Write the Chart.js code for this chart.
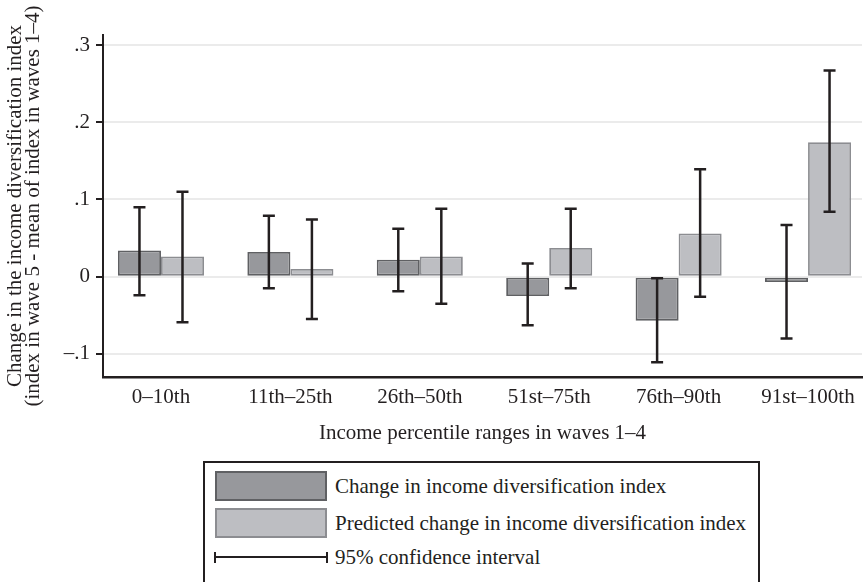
<!DOCTYPE html>
<html>
<head>
<meta charset="utf-8">
<script src="https://cdn.jsdelivr.net/npm/chart.js@4.4.1/dist/chart.umd.min.js"></script>
<style>
  body { margin: 0; background: #fff; }
  #wrap { position: relative; width: 863px; height: 450px; }
  #legend {
    position: absolute; left: 203px; top: 461px; width: 557px; height: 140px;
    box-sizing: border-box; border: 2px solid #231f20;
    font: 21px "Liberation Serif", serif; color: #231f20;
  }
  .item { position: absolute; left: 10px; height: 30px; }
  .swatch { position: absolute; left: 0; top: 0; width: 112px; height: 30px; box-sizing: border-box; border: 2px solid; }
  .lab { position: absolute; left: 120px; top: 0; line-height: 30px; white-space: nowrap; }
  .ci { position: absolute; left: -1px; top: 10px; width: 114px; height: 11px; box-sizing: border-box;
        border-left: 2px solid #231f20; border-right: 2px solid #231f20; }
  .ci::after { content: ""; position: absolute; left: 0; right: 0; top: 4px; height: 2px; background: #231f20; }
</style>
</head>
<body>
<div id="wrap"><canvas id="bars" width="863" height="450"></canvas></div>
<div id="legend"></div>
<script>
const groups = ['0–10th', '11th–25th', '26th–50th', '51st–75th', '76th–90th', '91st–100th'];
// observed change + 95% CI
const actualChange = [0.034, 0.032, 0.022, -0.025, -0.057, -0.007];
const actualLow    = [-0.024, -0.015, -0.019, -0.063, -0.111, -0.080];
const actualHigh   = [0.090, 0.079, 0.062, 0.017, -0.002, 0.067];
// predicted change + 95% CI
const predictedChange = [0.026, 0.010, 0.026, 0.037, 0.056, 0.174];
const predictedLow    = [-0.059, -0.055, -0.035, -0.015, -0.026, 0.084];
const predictedHigh   = [0.110, 0.074, 0.088, 0.088, 0.139, 0.267];
const yTicks = [-0.1, 0, 0.1, 0.2, 0.3];

const ink = '#231f20';
Chart.defaults.font.family = '"Liberation Serif", serif';
Chart.defaults.font.size = 21;
Chart.defaults.color = ink;

// whiskers for the confidence intervals
const ciBars = {
  id: 'ciBars',
  afterDatasetsDraw(chart) {
    const ctx = chart.ctx, y = chart.scales.y;
    ctx.save();
    ctx.strokeStyle = ink;
    ctx.lineWidth = 2.5;
    chart.data.datasets.forEach((ds, d) => {
      chart.getDatasetMeta(d).data.forEach((bar, i) => {
        const hi = y.getPixelForValue(ds.ciHigh[i]);
        const lo = y.getPixelForValue(ds.ciLow[i]);
        ctx.beginPath();
        ctx.moveTo(bar.x, hi); ctx.lineTo(bar.x, lo);
        ctx.moveTo(bar.x - 6, hi); ctx.lineTo(bar.x + 6, hi);
        ctx.moveTo(bar.x - 6, lo); ctx.lineTo(bar.x + 6, lo);
        ctx.stroke();
      });
    });
    ctx.restore();
  }
};

const fmtY = v => {
  const r = Math.round(v * 10) / 10;
  if (r === 0) return '0';
  return (r < 0 ? '–' : '') + Math.abs(r).toString().replace(/^0/, '');
};

const chart = new Chart(document.getElementById('bars'), {
  type: 'bar',
  data: {
    datasets: [
      {
        label: 'Change in income diversification index',
        data: actualChange.map((v, i) => ({ x: i, y: v })),
        ciLow: actualLow, ciHigh: actualHigh,
        backgroundColor: '#97989c', borderColor: '#5f6063'
      },
      {
        label: 'Predicted change in income diversification index',
        data: predictedChange.map((v, i) => ({ x: i, y: v })),
        ciLow: predictedLow, ciHigh: predictedHigh,
        backgroundColor: '#bdbec2', borderColor: '#8c8d91'
      }
    ]
  },
  options: {
    responsive: false,
    animation: false,
    layout: { padding: { top: 35, right: 1 } },
    datasets: { bar: { borderWidth: 1.8, borderSkipped: false, categoryPercentage: 0.665, barPercentage: 1 } },
    plugins: { legend: { display: false }, tooltip: { enabled: false } },
    scales: {
      x: {
        type: 'linear', offset: false, min: -0.448, max: 5.417,
        afterBuildTicks: s => { s.ticks = groups.map((g, i) => ({ value: i })); },
        afterFit: s => { s.height = 73; },
        grid: { display: false, drawTicks: false },
        border: { color: ink, width: 2.5 },
        ticks: { padding: 8, autoSkip: false, maxRotation: 0, callback: v => groups[v] },
        title: { display: true, text: 'Income percentile ranges in waves 1–4', padding: { top: 0, bottom: 4 } }
      },
      y: {
        min: -0.13, max: 0.313,
        afterBuildTicks: s => { s.ticks = yTicks.map(v => ({ value: v })); },
        afterFit: s => { s.width = 103; },
        grid: { color: '#ebebeb', lineWidth: 2, tickLength: 7, tickColor: ink, tickWidth: 2 },
        border: { color: ink, width: 2 },
        ticks: { padding: 6, callback: fmtY },
        title: {
          display: true,
          text: ['Change in the income diversification index', '(index in wave 5 - mean of index in waves 1–4)'],
          font: { lineHeight: 0.86 },
          padding: { top: 6, bottom: 0 }
        }
      }
    }
  },
  plugins: [ciBars]
});

// legend box built from the datasets
const legend = document.getElementById('legend');
const rowTops = [8, 45];
chart.data.datasets.forEach((ds, d) => {
  const item = document.createElement('div');
  item.className = 'item';
  item.style.top = rowTops[d] + 'px';
  item.innerHTML = '<div class="swatch" style="background:' + ds.backgroundColor + ';border-color:' + ds.borderColor + '"></div>' +
    '<div class="lab">' + ds.label + '</div>';
  legend.appendChild(item);
});
const ciItem = document.createElement('div');
ciItem.className = 'item';
ciItem.style.top = '79px';
ciItem.innerHTML = '<div class="ci"></div><div class="lab">95% confidence interval</div>';
legend.appendChild(ciItem);
</script>
</body>
</html>
